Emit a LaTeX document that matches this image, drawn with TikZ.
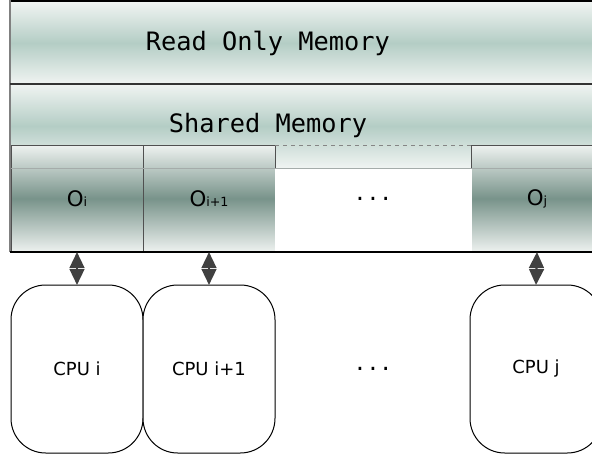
\documentclass[tikz,border=0pt]{standalone}
\usepackage{fontspec}
\setmainfont{DejaVu Sans}
\setmonofont{DejaVu Sans Mono}
\usepackage{tikz}
\usetikzlibrary{arrows.meta, positioning}
\usepackage{xcolor}

\definecolor{mempale}{RGB}{240,244,242}
\definecolor{memmid}{RGB}{180,205,197}
\definecolor{cellpale}{RGB}{238,242,240}
\definecolor{celldark}{RGB}{120,147,138}
\definecolor{cellborder}{RGB}{80,80,80}
\definecolor{sepgray}{RGB}{165,172,170}
\definecolor{edgegray}{RGB}{128,128,128}
\definecolor{arrowgray}{RGB}{64,64,64}

\begin{document}
\begin{tikzpicture}[
    x=0.75pt, y=-0.75pt,
    memlabel/.style={font=\ttfamily\fontsize{19}{19}\selectfont},
    dotlabel/.style={font=\ttfamily\fontsize{16}{16}\selectfont},
    cell/.style={draw=cellborder, line width=0.75pt, minimum width=99pt, minimum height=80.25pt,
        inner sep=0pt, outer sep=0pt, top color=cellpale, bottom color=cellpale, middle color=celldark,
        font=\fontsize{16}{16}\selectfont},
    cpu/.style={draw=black, line width=0.75pt, rounded corners=26pt, minimum width=99pt, minimum height=126pt,
        inner sep=0pt, outer sep=0pt, fill=white, font=\fontsize{13.5}{14}\selectfont},
    biarrow/.style={{Triangle[length=12pt, width=11pt]}-{Triangle[length=12pt, width=11pt]}, line width=1.8pt, arrowgray}
]
\useasboundingbox (0,0) rectangle (592,460);
\clip (0,0) rectangle (592,460);

% Memory bands
\shade[top color=mempale, bottom color=mempale, middle color=memmid] (10,2) rectangle (600,84);
\shade[top color=mempale, bottom color=mempale, middle color=memmid] (10,84) rectangle (600,168);
\node[memlabel] (rom) at (268,43) {Read Only Memory};
\node[memlabel] (shm) at (268,126) {Shared Memory};

% Per-CPU slots
\node[cell] (oi) at (77,198.5) {O{\fontsize{9.5}{9.5}\selectfont i}};
\node[cell] (oii) at (209,198.5) {O{\fontsize{9.5}{9.5}\selectfont i+1}};
\node[cell] (oj) at (537,198.5) {O{\fontsize{9.5}{9.5}\selectfont j}};
\fill[white] (275,168) rectangle (471.5,252);
\draw[cellborder!70, dashed, line width=0.75pt] (275,145) -- (471.5,145);
\node[dotlabel] (dotsm) at (373,198.5) {...};

% Frame lines
\draw[sepgray, line width=0.75pt] (10,168) -- (600,168);
\draw[black, line width=2pt] (10,1) -- (600,1);
\draw[edgegray, line width=2pt] (10,0) -- (10,252);
\draw[black!80, line width=1.5pt] (10,84) -- (600,84);
\draw[black, line width=2pt] (10,252) -- (600,252);

% Processors
\node[cpu] (cpui) at (77,369) {CPU i};
\node[cpu] (cpuii) at (209,369) {CPU i+1};
\node[cpu] (cpuj) at (536,369) {CPU j};
\node[dotlabel] (dotsc) at (373,369) {...};

% Links
\draw[biarrow] (oi.south) -- (cpui.north);
\draw[biarrow] (oii.south) -- (cpuii.north);
\draw[biarrow] (oj.south) -- (cpuj.north);

\end{tikzpicture}
\end{document}
